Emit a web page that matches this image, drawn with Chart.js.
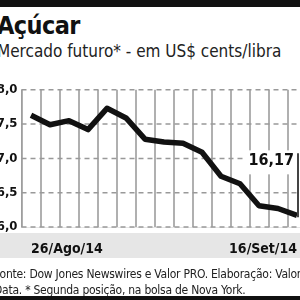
<!DOCTYPE html>
<html>
<head>
<meta charset="utf-8">
<script src="https://cdn.jsdelivr.net/npm/chart.js@4"></script>
<style>
  html, body { margin: 0; padding: 0; background: #fff; }
  #page { position: relative; width: 300px; height: 300px; overflow: hidden; background: #fff; }
  .bar { position: absolute; left: 0; width: 300px; background: #111; }
  #title { position: absolute; left: -3px; top: 11px; font: bold 25px "Liberation Sans Narrow", "DejaVu Sans Condensed", sans-serif; color: #111; letter-spacing: -0.6px; }
  #subtitle { position: absolute; left: -3px; top: 41px; font: 17px "Liberation Sans Narrow", "DejaVu Sans Condensed", sans-serif; color: #222; white-space: nowrap; }
  #band { position: absolute; left: 0; top: 233px; width: 300px; height: 25px; background: #e6e6e6; }
  #wrap { position: absolute; left: -12px; top: 78px; width: 324px; height: 190px; }
  #footer { position: absolute; left: -6px; top: 266px; font: 12px "DejaVu Sans Condensed", sans-serif; color: #222; line-height: 16px; white-space: nowrap; letter-spacing: -0.25px; }
</style>
</head>
<body>
<div id="page">
  <div class="bar" style="top:0;height:7px"></div>
  <div id="title">Açúcar</div>
  <div id="subtitle">Mercado futuro* - em US$ cents/libra</div>
  <div id="band"></div>
  <div id="wrap"><canvas id="chart"></canvas></div>
  <div id="footer">Fonte: Dow Jones Newswires e Valor PRO. Elaboração: Valor<br>Data. * Segunda posição, na bolsa de Nova York.</div>
  <div class="bar" style="top:296px;height:4px"></div>
</div>
<script>
// trading days, 26/Ago/14 .. 16/Set/14
const dates = ['26/Ago/14', '27/Ago/14', '28/Ago/14', '29/Ago/14', '02/Set/14', '03/Set/14', '04/Set/14',
  '05/Set/14', '08/Set/14', '09/Set/14', '10/Set/14', '11/Set/14', '12/Set/14', '15/Set/14', '16/Set/14'];
const prices = [17.63, 17.49, 17.55, 17.42, 17.73, 17.59, 17.28, 17.24, 17.22, 17.09, 16.74, 16.63, 16.31, 16.27, 16.17];
const yTicks = [16.0, 16.5, 17.0, 17.5, 18.0];

const fmt = v => v.toFixed(2).replace('.', ',');

// dashed horizontal lines at the y ticks
const dashedY = {
  id: 'dashedY',
  beforeDatasetsDraw(chart) {
    const { ctx, chartArea: a, scales: { y: ys } } = chart;
    ctx.save();
    ctx.strokeStyle = '#999999';
    ctx.lineWidth = 1.5;
    ctx.setLineDash([5, 4]);
    yTicks.forEach(v => {
      const y = ys.getPixelForValue(v);
      ctx.beginPath();
      ctx.moveTo(a.left, y);
      ctx.lineTo(a.right, y);
      ctx.stroke();
    });
    ctx.restore();
  }
};

// last value marker: vertical line + label on a white box
const lastLabel = {
  id: 'lastLabel',
  afterDatasetsDraw(chart) {
    const ctx = chart.ctx;
    const pt = chart.getDatasetMeta(0).data[prices.length - 1];
    const x = pt.x + 1;
    const ty = pt.y - 54;
    ctx.save();
    ctx.font = 'bold 16px "DejaVu Sans Condensed", sans-serif';
    const w = ctx.measureText(fmt(prices[prices.length - 1])).width;
    ctx.fillStyle = '#fff';
    ctx.fillRect(x - w - 8, ty - 11, w + 8, 24);
    ctx.strokeStyle = '#444';
    ctx.lineWidth = 2;
    ctx.beginPath();
    ctx.moveTo(x, pt.y + 2);
    ctx.lineTo(x, pt.y - 62);
    ctx.stroke();
    ctx.fillStyle = '#111';
    ctx.textAlign = 'right';
    ctx.textBaseline = 'middle';
    ctx.fillText(fmt(prices[prices.length - 1]), x - 4, ty);
    ctx.restore();
  }
};

new Chart(document.getElementById('chart'), {
  type: 'line',
  data: {
    labels: dates,
    datasets: [{
      data: prices,
      borderColor: '#111',
      borderWidth: 5.5,
      pointRadius: 0,
      tension: 0,
      borderJoinStyle: 'round'
    }]
  },
  options: {
    responsive: true,
    maintainAspectRatio: false,
    animation: false,
    layout: { padding: { top: 8, right: 5.5, left: 0, bottom: 0 } },
    plugins: { legend: { display: false }, tooltip: { enabled: false } },
    scales: {
      x: {
        offset: true,
        afterFit: s => { s.height = 41; },
        grid: { offset: true, drawTicks: false, color: '#b0b0b0', lineWidth: 2 },
        ticks: {
          autoSkip: false,
          maxRotation: 0,
          align: 'inner',
          padding: 14,
          color: '#111',
          font: { family: '"DejaVu Sans Condensed", sans-serif', size: 14, weight: 'bold' },
          callback: (v, i) => (i === 0 || i === dates.length - 1) ? dates[i] : ''
        }
      },
      y: {
        min: yTicks[0],
        max: yTicks[yTicks.length - 1],
        afterFit: s => { s.width = 33.5; },
        grid: { drawTicks: false, color: 'rgba(0,0,0,0)', lineWidth: 1 },
        ticks: {
          stepSize: yTicks[1] - yTicks[0],
          padding: 4,
          color: '#111',
          font: { family: '"DejaVu Sans Condensed", sans-serif', size: 13, weight: 'bold' },
          callback: v => v.toFixed(1).replace('.', ',')
        }
      }
    }
  },
  plugins: [dashedY, lastLabel]
});
</script>
</body>
</html>
